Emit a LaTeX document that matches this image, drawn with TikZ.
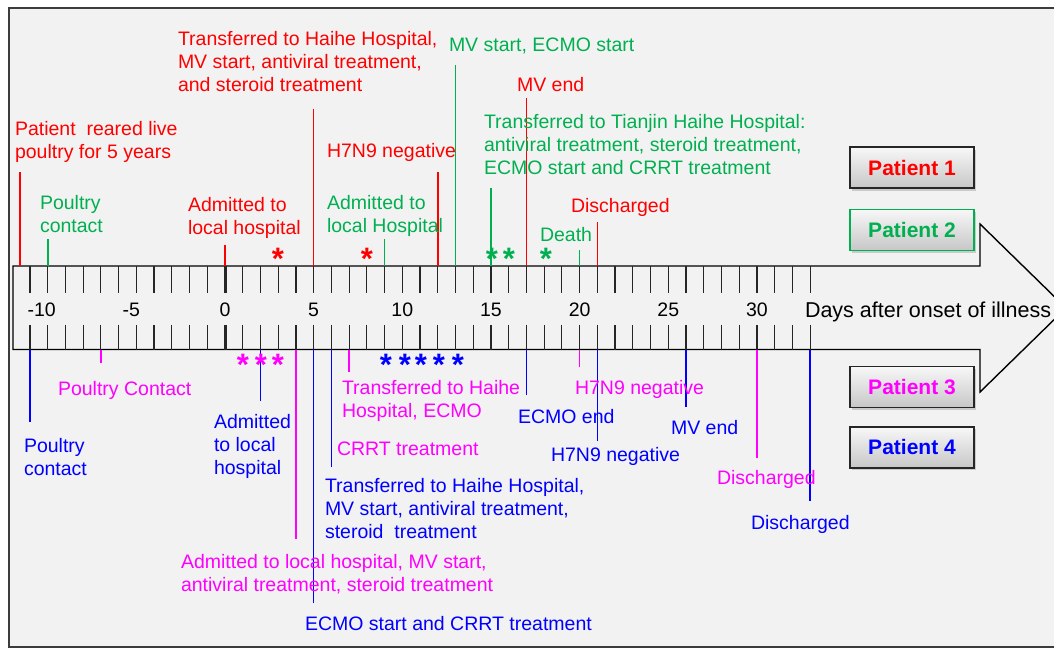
\documentclass[tikz,border=0pt]{standalone}
\usepackage{fontspec}
\setmainfont{Liberation Sans}
\usepackage{tikz}
\usetikzlibrary{positioning,shadows,calc}
\definecolor{pone}{HTML}{FF0000}
\definecolor{ptwo}{HTML}{00B050}
\definecolor{pthree}{HTML}{FF00FF}
\definecolor{pfour}{HTML}{0000FF}
\definecolor{paper}{HTML}{F2F2F2}
\definecolor{framegray}{HTML}{3C3C3C}
\newcommand{\evstarmark}{\raisebox{-0.33em}[0.36em][0pt]{*}}
\tikzset{
    evtext/.style={anchor=north west,align=left,inner sep=0pt,outer sep=0pt,
      font=\fontsize{19.5}{23.4}\selectfont},
    evline/.style={line width=1.6pt},
    daytick/.style={line width=1.2pt,draw=black!85},
    daynum/.style={anchor=base,inner sep=0pt,font=\fontsize{19.5}{23.4}\selectfont},
    evstar/.style={anchor=center,inner sep=0pt,font=\fontsize{31}{31}\bfseries},
    ptbox/.style={draw=black!85,line width=1.4pt,top color=black!3,bottom color=black!22,
      minimum width=124pt,minimum height=41pt,inner sep=0pt,
      font=\fontsize{21}{25}\bfseries,
      drop shadow={shadow xshift=1.5pt,shadow yshift=-2.5pt,opacity=0.35}}
}

\begin{document}
\begin{tikzpicture}[x=1pt,y=-1pt]
  \useasboundingbox (0,0) rectangle (1054,648);
  \fill[white] (0,0) rectangle (1054,648);
  \draw[framegray,line width=1.8pt,fill=paper] (9,8) rectangle (1080,647);
  % timeline arrow
  \draw[line width=1.4pt,fill=paper,line join=miter] (13,266) -- (980,266) -- (980,224)
    -- (1066,308) -- (980,392) -- (980,349.5) -- (13,349.5) -- cycle;
  \foreach \d in {-11,...,33}{
    \coordinate (t\d) at ({225+17.73*\d},266);
    \coordinate (b\d) at ({225+17.73*\d},349.5);
    \draw[daytick] (t\d) -- ++(0,26.7);
    \draw[daytick] (b\d) -- ++(0,-24.5);
  }
  \draw[daytick,line width=3pt] (t0) -- ++(0,26.7);
  \draw[daytick,line width=3pt] (b0) -- ++(0,-24.5);
  \foreach \n/\sh in {-10/-6,-5/-5,0/0,5/0,10/0,15/0,20/0,25/0,30/0}
    \node[daynum] (n\n) at ($(t\n)+(\sh,50.7)$) {\n};
  \node[evtext,font=\fontsize{21.5}{25}\selectfont] (axis) at (805,301.5) {Days after onset of illness};

  % event lines
  \coordinate (rear) at (20,266);
  \draw[evline,pone] (rear) -- ++(0,-94);
  \foreach \d/\len in {0/21,5/157,12/94,17/168,21/44}
    \draw[evline,pone] (t\d) -- ++(0,-\len);
  \foreach \d/\len in {-10/27,9/27,13/201,15/78,20/16}
    \draw[evline,ptwo] (t\d) -- ++(0,-\len);
  \foreach \d/\len in {-7/13.8,4/189.8,6/82.2,7/22.2,20/17.2,30/108.8}
    \draw[evline,pthree] (b\d) -- ++(0,\len);
  \foreach \d/\len in {-11/72,2/51.5,5/253.8,6/117.2,17/45.5,21/91.2,26/57.2,33/151.5}
    \draw[evline,pfour] (b\d) -- ++(0,\len);

  \foreach \x/\c [count=\i] in {278/pone,367/pone,492/ptwo,509/ptwo,546/ptwo}
    \node[evstar,text=\c] (sa\i) at (\x,254) {\evstarmark};
  \foreach \x/\c [count=\i] in {243/pthree,261/pthree,278/pthree,386/pfour,405/pfour,421/pfour,439/pfour,458/pfour}
    \node[evstar,text=\c] (sb\i) at (\x,360) {\evstarmark};

  % patient 1
  \node[evtext,text=pone] (rearA) at (15,121) {Patient~ reared live\\poultry for 5 years};
  \node[evtext,text=pone] (hhA) at (178,31) {Transferred to Haihe Hospital,\\MV start, antiviral treatment,\\and steroid treatment};
  \node[evtext,text=pone] (admA) at (188,197) {Admitted to\\local hospital};
  \node[evtext,text=pone] (negA) at (327,143) {H7N9 negative};
  \node[evtext,text=pone] (mvendA) at (517,77) {MV end};
  \node[evtext,text=pone] (disA) at (571,198) {Discharged};
  % patient 2
  \node[evtext,text=ptwo] (pcB) at (40,195) {Poultry\\contact};
  \node[evtext,text=ptwo] (admB) at (327,195) {Admitted to\\local Hospital};
  \node[evtext,text=ptwo] (mvB) at (449,38) {MV start, ECMO start};
  \node[evtext,text=ptwo] (tjB) at (484,114) {Transferred to Tianjin Haihe Hospital:\\antiviral treatment, steroid treatment,\\ECMO start and CRRT treatment};
  \node[evtext,text=ptwo] (deathB) at (540,227) {Death};
  % patient 3
  \node[evtext,text=pthree] (pcC) at (58,381) {Poultry Contact};
  \node[evtext,text=pthree] (admC) at (181,554) {Admitted to local hospital, MV start,\\antiviral treatment, steroid treatment};
  \node[evtext,text=pthree] (hhC) at (342,380) {Transferred to Haihe\\Hospital, ECMO};
  \node[evtext,text=pthree] (crrtC) at (337,442) {CRRT treatment};
  \node[evtext,text=pthree] (negC) at (575,380) {H7N9 negative};
  \node[evtext,text=pthree] (disC) at (717,470) {Discharged};
  % patient 4
  \node[evtext,text=pfour] (pcD) at (24,438) {Poultry\\contact};
  \node[evtext,text=pfour] (admD) at (214,414) {Admitted\\to local\\hospital};
  \node[evtext,text=pfour] (hhD) at (325,478) {Transferred to Haihe Hospital,\\MV start, antiviral treatment,\\steroid~ treatment};
  \node[evtext,text=pfour] (ecmoD) at (305,616) {ECMO start and CRRT treatment};
  \node[evtext,text=pfour] (ecmoendD) at (518,409) {ECMO end};
  \node[evtext,text=pfour] (negD) at (551,447) {H7N9 negative};
  \node[evtext,text=pfour] (mvendD) at (671,420) {MV end};
  \node[evtext,text=pfour] (disD) at (751,515) {Discharged};

  % legend
  \node[ptbox,text=pone] (leg1) at (912,167.5) {Patient 1};
  \node[ptbox,draw=ptwo,text=ptwo,below=20pt of leg1] (leg2) {Patient 2};
  \node[ptbox,text=pthree] (leg3) at (912,387) {Patient 3};
  \node[ptbox,text=pfour,below=18pt of leg3] (leg4) {Patient 4};
\end{tikzpicture}
\end{document}
